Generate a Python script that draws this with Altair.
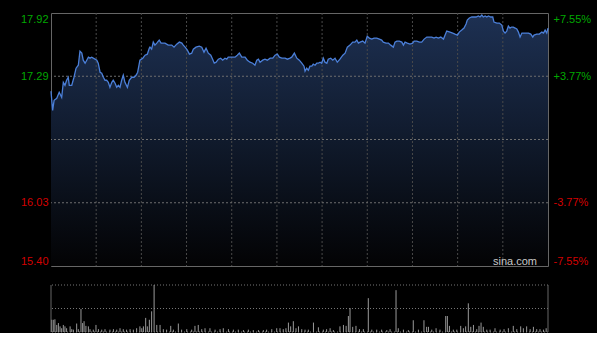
import altair as alt
import pandas as pd

# ---- price line (minute index, price) ----
minutes = [0, 0.8, 1.5, 2.8, 4.0, 5.2, 6.0, 6.8, 7.6, 8.4, 8.9, 10.1, 11.2, 12.2, 13.3, 14.1, 15.0, 15.7, 16.6, 17.4,
           18.2, 19.0, 19.8, 20.6, 22.3, 23.0, 23.9, 24.7, 25.5, 26.3, 27.1, 27.9, 28.7, 29.6, 30.3, 31.2, 32.0, 32.8,
           33.6, 34.4, 35.2, 36.0, 37.2, 38.1, 39.3, 40.4, 41.4, 42.2, 43.3, 44.7, 45.8, 46.9, 47.9,
           48.2, 49.0, 49.8, 50.6, 51.5, 52.7, 53.6, 54.7, 55.5, 57.1, 58.8, 59.9, 61.2, 62.5, 63.7, 64.4, 65.3, 66.4,
           67.4, 68.5, 69.3, 70.6, 72.2, 73.4, 74.5, 75.5, 76.6, 77.8, 78.7, 79.5, 80.4, 81.5, 82.6, 83.6, 84.7, 85.6,
           86.3, 88.0, 89.6, 90.7, 91.7, 92.9, 94.5, 95.6, 96.9,
           98.2, 99.3, 100.2, 101.0, 101.8, 103.1, 104.2, 105.3, 106.7, 108.0, 109.1, 110.2, 111.2, 112.4, 114.0, 115.1,
           116.4, 117.2, 118.5, 119.7, 120.9, 122.1, 123.2, 123.7, 124.5, 125.3, 126.1, 127.0, 127.7, 128.6, 129.4,
           130.2, 131.0, 131.8, 132.6, 133.4, 134.3, 135.0, 136.2, 137.2, 138.3, 139.4, 140.7, 142.1, 143.2, 144.3, 145.6,
           146.9, 148.0, 148.9, 149.7, 150.5, 151.8, 152.9, 154.0, 155.0, 156.2, 157.3, 158.6, 159.9, 161.0, 161.8,
           163.1, 164.3, 165.4, 166.7, 167.5, 168.4, 169.6, 170.8, 171.6, 172.4, 173.5, 174.8, 176.1, 176.8, 178.1,
           179.4, 180.5, 181.7, 183.0, 184.2, 185.4, 186.5, 187.5, 188.6, 189.8, 191.1, 191.9, 192.7, 194.3,
           195.6, 196.7, 197.9, 198.8, 200.0, 201.1, 202.1, 202.7, 203.7, 204.9, 206.0, 207.0, 208.1, 208.9, 209.8,
           210.5, 211.4, 212.2, 213.0, 214.1, 215.1, 215.7, 217.1, 218.3, 219.5, 220.3, 221.1, 221.9, 222.7, 223.5,
           224.3, 225.1, 226.0, 226.8, 227.6, 228.4, 229.3, 230.1, 231.4, 232.5, 233.6, 234.6, 235.2, 236.5, 237.8,
           239.0, 239.8, 240.6, 241.4, 242.0]
prices = [17.14, 16.95, 17.05, 17.07, 17.13, 17.08, 17.23, 17.20, 17.25, 17.28, 17.20, 17.20, 17.28, 17.37, 17.40,
          17.54, 17.52, 17.45, 17.42, 17.45, 17.48, 17.47, 17.48, 17.47, 17.45, 17.42, 17.33, 17.32, 17.28, 17.25,
          17.25, 17.23, 17.18, 17.23, 17.25, 17.22, 17.18, 17.20, 17.18, 17.25, 17.30, 17.23, 17.18, 17.25, 17.28,
          17.28, 17.30, 17.33, 17.45, 17.47, 17.50, 17.51, 17.57,
          17.58, 17.56, 17.63, 17.60, 17.62, 17.65, 17.62, 17.62, 17.62, 17.60, 17.60, 17.58, 17.61, 17.63, 17.62,
          17.60, 17.58, 17.55, 17.51, 17.52, 17.56, 17.58, 17.59, 17.58, 17.53, 17.57, 17.52, 17.50, 17.46, 17.42,
          17.43, 17.46, 17.47, 17.45, 17.47, 17.46, 17.48, 17.48, 17.48, 17.50, 17.52, 17.48, 17.48, 17.45, 17.43,
          17.42, 17.40, 17.45, 17.46, 17.43, 17.45, 17.46, 17.45, 17.47, 17.47, 17.50, 17.51, 17.48, 17.47, 17.47,
          17.46, 17.47, 17.48, 17.52, 17.47, 17.45, 17.42, 17.39, 17.34, 17.37, 17.35, 17.39, 17.39, 17.41, 17.40,
          17.42, 17.42, 17.43, 17.42, 17.47, 17.43, 17.42, 17.46, 17.47, 17.45, 17.47, 17.43, 17.46, 17.50, 17.52,
          17.58, 17.60,
          17.63, 17.63, 17.65, 17.62, 17.63, 17.64, 17.62, 17.69, 17.67, 17.66, 17.67, 17.67, 17.66, 17.65, 17.63,
          17.62, 17.62, 17.60, 17.58, 17.63, 17.64, 17.64, 17.63, 17.60, 17.63, 17.62, 17.61, 17.62, 17.64, 17.64,
          17.63, 17.63, 17.66, 17.68, 17.68, 17.68, 17.67, 17.68, 17.67, 17.68, 17.66, 17.70, 17.74, 17.73,
          17.72, 17.71, 17.70, 17.73, 17.75, 17.77, 17.81, 17.85, 17.87, 17.88, 17.88, 17.88, 17.89, 17.88, 17.90,
          17.88, 17.89, 17.88, 17.89, 17.88, 17.88, 17.83, 17.82, 17.82, 17.80, 17.74, 17.72, 17.74, 17.79, 17.77,
          17.78, 17.78, 17.77, 17.76, 17.73, 17.68, 17.72, 17.72, 17.72, 17.72, 17.71, 17.68, 17.70, 17.71, 17.71,
          17.73, 17.72, 17.75, 17.72, 17.77]

# ---- volume bars (minute index, relative volume) ----
vol_minutes = [0.3, 1.1, 1.9, 2.8, 3.6, 4.4, 5.2, 6.0, 6.8, 7.6, 9.3, 10.1, 10.9, 12.5, 13.3, 14.6, 15.4, 16.1, 17.0,
               18.2, 19.0, 20.6, 21.9, 23.1, 24.7, 26.3, 28.7, 30.4, 32.0, 33.6, 35.2, 36.8, 38.5, 40.1, 41.7, 43.3,
               44.2, 45.0, 46.1, 46.9, 47.9, 49.0, 50.2, 51.5, 53.1, 54.7, 56.3, 58.3, 59.6, 62.0, 63.6, 66.1, 68.5,
               70.1, 71.7, 73.4, 75.0, 77.4, 79.9, 82.3, 83.9, 86.4, 88.8, 91.2, 93.7, 96.1, 98.5, 101.0, 103.4, 105.0,
               107.5, 109.9, 111.5, 113.1, 114.4, 115.6, 116.7, 118.0, 119.3, 120.5,
               122.1, 123.7, 125.3, 127.8, 130.2, 132.6, 134.2, 135.9, 137.5, 140.7, 142.4, 143.7, 144.8, 145.6, 146.9,
               148.5, 150.2, 152.1, 154.5, 156.2, 158.6, 161.0, 163.5, 165.1, 168.0, 169.1, 171.6, 174.0, 176.4, 178.9,
               181.6, 182.9, 183.8, 185.4, 187.5, 189.4, 192.2, 193.0, 194.0, 195.9, 197.6, 199.5, 200.8, 201.9, 203.2,
               204.4, 205.7, 207.3, 208.4, 209.4, 210.5, 212.2, 213.8, 216.2, 218.7, 220.6, 222.7, 225.1, 226.8, 228.7,
               230.0, 231.6, 233.3, 234.9, 236.5, 238.1, 239.8, 241.1]
volumes = [26, 26, 27, 15, 19, 12, 8, 15, 12, 8, 12, 6, 5, 18, 6, 49, 19, 23, 13, 12, 6, 5, 15, 6, 5, 6, 5, 6, 5, 8,
           6, 5, 6, 5, 8, 12, 8, 12, 30, 12, 26, 44, 100, 15, 15, 6, 5, 13, 5, 18, 5, 6, 5, 13, 15, 6, 8, 8, 5, 6,
           8, 6, 5, 5, 4, 5, 4, 4, 4, 5, 6, 8, 8, 6, 8, 20, 12, 23, 8, 12,
           6, 5, 5, 20, 10, 5, 6, 8, 4, 12, 15, 13, 34, 51, 11, 13, 6, 6, 72, 5, 5, 5, 4, 6, 89, 8, 5, 4, 25, 5,
           25, 11, 11, 5, 8, 5, 34, 34, 13, 5, 5, 13, 8, 12, 61, 11, 15, 6, 13, 20, 11, 5, 5, 8, 5, 6, 8, 13, 6, 12,
           8, 12, 6, 11, 6, 6, 5, 8]

prev_close = 16.66
price_domain = [15.40, 17.92]
price_ticks = [15.40, 16.03, 17.29, 17.92]
pct_domain = [-7.55, 7.55]
pct_ticks = [-7.55, -3.77, 3.77, 7.55]
grid_prices = [16.03, 16.66, 17.29]
grid_minutes = [22, 44, 66, 88, 110, 132, 154, 176, 198, 220]
x_domain = [0, 242]
vol_domain = [0, 100]
vol_grid = [0, 50, 100]
watermark = "sina.com"

GREEN = "#00a800"
RED = "#d40000"
FONT = "Liberation Sans"

price_df = pd.DataFrame({"m": minutes, "p": prices})
vol_df = pd.DataFrame({"m": vol_minutes, "v": volumes, "b": [0] * len(volumes)})
gridp_df = pd.DataFrame({"p": grid_prices})
gridm_df = pd.DataFrame({"m": grid_minutes})
pct_df = pd.DataFrame({"pct": pct_domain})
wm_df = pd.DataFrame({"m": [x_domain[1]], "p": [price_domain[0]], "t": [watermark]})
side_df = pd.DataFrame({"m": x_domain})
volgrid_df = pd.DataFrame({"v": vol_grid})

xs = alt.Scale(domain=x_domain, nice=False, zero=False)
ys = alt.Scale(domain=price_domain, nice=False, zero=False)
vs = alt.Scale(domain=vol_domain, nice=False)

left_axis = alt.Axis(
    values=price_ticks, format=".2f", labelFlush=True, ticks=False, domain=False, grid=False,
    labelColor={"condition": {"test": f"datum.value > {prev_close}", "value": GREEN}, "value": RED},
    labelFontSize=11, labelFont=FONT, labelPadding=3, minExtent=46, maxExtent=46, title=None,
)
right_axis = alt.Axis(
    orient="right", values=pct_ticks, labelFlush=True, ticks=False, domain=False, grid=False,
    labelExpr="(datum.value > 0 ? '+' : '-') + format(abs(datum.value), '.2f') + '%'",
    labelColor={"condition": {"test": "datum.value > 0", "value": GREEN}, "value": RED},
    labelFontSize=11, labelFont=FONT, labelPadding=5, minExtent=40, maxExtent=40, title=None,
)
vol_axis = alt.Axis(labels=False, ticks=False, domain=False, grid=False, minExtent=46, maxExtent=46, title=None)

X = alt.X("m:Q", scale=xs, axis=None)
Yp = alt.Y("p:Q", scale=ys, axis=left_axis)

gradient = alt.Gradient(
    gradient="linear",
    stops=[alt.GradientStop(color="#1d3052", offset=0),
           alt.GradientStop(color="#101a2c", offset=0.5),
           alt.GradientStop(color="#030304", offset=1)],
    x1=1, x2=1, y1=0, y2=1,
)

area = alt.Chart(price_df).mark_area(color=gradient).encode(x=X, y=Yp, y2=alt.datum(price_domain[0]))
vgrid = alt.Chart(gridm_df).mark_rule(color="#4a4a4a", strokeDash=[2, 2], strokeWidth=1).encode(x=X)
hgrid = alt.Chart(gridp_df).mark_rule(color="#6e6e6e", strokeDash=[2, 2], strokeWidth=1).encode(y=Yp)
line = alt.Chart(price_df).mark_line(color="#4b7fd8", strokeWidth=1.3).encode(x=X, y=Yp)
wm = alt.Chart(wm_df).mark_text(
    align="right", baseline="alphabetic", dx=-11, dy=-1, color="#c8c8c8", fontSize=11, font=FONT
).encode(x=X, y=Yp, text="t:N")

price_layers = alt.layer(area, vgrid, hgrid, line, wm)
pct_layer = alt.Chart(pct_df).mark_rule(opacity=0).encode(
    y=alt.Y("pct:Q", scale=alt.Scale(domain=pct_domain, nice=False, zero=False), axis=right_axis)
)
main = alt.layer(price_layers, pct_layer).resolve_scale(y="independent").properties(width=497, height=253)

Yv = alt.Y("v:Q", scale=vs, axis=vol_axis)
bars = alt.Chart(vol_df).mark_rule(color="#9a9a9a", strokeWidth=1).encode(x=X, y=Yv, y2="b:Q")
vlines = alt.Chart(volgrid_df).mark_rule(color="#777777", strokeDash=[1, 2], strokeWidth=1).encode(y=Yv)
sides = alt.Chart(side_df).mark_rule(color="#666666", strokeWidth=1).encode(x=X)
vol = alt.layer(vlines, bars, sides).properties(
    width=497, height=47, view=alt.ViewBackground(stroke="transparent")
)

chart = alt.vconcat(main, vol, spacing=19, bounds="flush").properties(
    background="#000000",
    padding={"left": 4, "top": 11, "right": 5, "bottom": 0},
).configure_view(stroke="#666666", strokeWidth=1)

chart.save("out.html", embed_options={"renderer": "svg", "actions": False})
